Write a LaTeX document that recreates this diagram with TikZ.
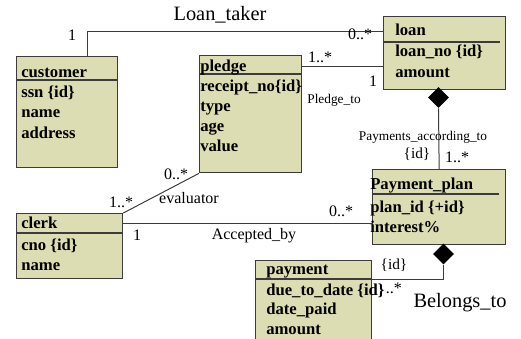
\documentclass[tikz,border=0pt]{standalone}
\usepackage{fontspec}
\setmainfont{Liberation Serif}
\usetikzlibrary{shapes.geometric}
\definecolor{classfill}{RGB}{221,221,179}
\definecolor{umlline}{RGB}{60,60,60}

\begin{document}
\begin{tikzpicture}[x=0.75pt,y=-0.75pt,
  cls/.style={draw=umlline,fill=classfill,line width=1pt,anchor=north west,inner sep=0pt},
  hdr/.style={draw=umlline,line width=0.9pt},
  attr/.style={anchor=base west,inner sep=0pt,font=\fontsize{12.5}{15}\selectfont\bfseries},
  lbl/.style={inner sep=0pt,font=\fontsize{12}{14}\selectfont},
  big/.style={inner sep=0pt,font=\fontsize{15.3}{18}\selectfont},
  small/.style={inner sep=0pt,font=\fontsize{10}{12}\selectfont},
  link/.style={draw=umlline,line width=0.75pt},
  own/.style={diamond,fill=black,inner sep=0pt,minimum width=15.75pt,minimum height=15.75pt}]
 \clip (0,0) rectangle (521,339);
 \node[cls,minimum width=75.75pt,minimum height=83.25pt] (customer) at (16,56) {};
 \node[cls,minimum width=76.5pt,minimum height=87.75pt] (pledge) at (199,55) {};
 \node[cls,minimum width=91.5pt,minimum height=54.75pt] (loan) at (383,16) {};
 \node[cls,minimum width=99.75pt,minimum height=56.25pt] (plan) at (372,169) {};
 \node[cls,minimum width=79.5pt,minimum height=48.75pt] (clerk) at (16,213) {};
 \node[cls,minimum width=87pt,minimum height=63.75pt] (payment) at (255,260) {};
 \draw[hdr] (customer.north west) ++(0,24) -- ++(101,0);
 \draw[hdr] (pledge.north west) ++(0,19) -- ++(102,0);
 \draw[hdr] (loan.north west) ++(0,26) -- ++(117,0);
 \draw[hdr] (plan.north west) ++(0,25) -- ++(127,0);
 \draw[hdr] (clerk.north west) ++(0,20) -- ++(106,0);
 \draw[hdr] (payment.north west) ++(0,19) coordinate (payment hl) -- ++(116,0) coordinate (payment hr);
 \node[attr] (customer t) at (21,77) {customer};
 \node[attr] (customer a1) at (21,97) {ssn \{id\}};
 \node[attr] (customer a2) at (21,117) {name};
 \node[attr] (customer a3) at (21,138) {address};
 \node[attr] (pledge t) at (200,71) {pledge};
 \node[attr] (pledge a1) at (200,91) {receipt\_no\{id\}};
 \node[attr] (pledge a2) at (200,111) {type};
 \node[attr] (pledge a3) at (200,131) {age};
 \node[attr] (pledge a4) at (200,151) {value};
 \node[attr] (loan t) at (395,35) {loan};
 \node[attr] (loan a1) at (395,56) {loan\_no \{id\}};
 \node[attr] (loan a2) at (395,77) {amount};
 \node[attr] (plan t) at (370,189) {Payment\_plan};
 \node[attr] (plan a1) at (370,212) {plan\_id \{+id\}};
 \node[attr] (plan a2) at (370,232) {interest\%};
 \node[attr] (clerk t) at (21,228) {clerk};
 \node[attr] (clerk a1) at (21,250) {cno \{id\}};
 \node[attr] (clerk a2) at (21,270) {name};
 \node[attr] (payment t) at (266,274) {payment};
 \node[attr] (payment a1) at (266,295) {due\_to\_date \{id\}};
 \node[attr] (payment a2) at (266,314) {date\_paid};
 \node[attr] (payment a3) at (266,334) {amount};
 \draw[link] (customer.north west) ++(71,0) |- ([yshift=-11.25pt]loan.north west);
 \draw[link] (pledge.north east) ++(0,11) coordinate (pledge to) -- (pledge to -| loan.west);
 \draw[link] (clerk.north east) -- (pledge.south west);
 \draw[link] (clerk.north east) ++(0,10) coordinate (accepted) -- (accepted -| plan.west);
 \node[own] (own loan) at (438.5,97.5) {};
 \draw[link] (own loan.south) -- (plan.north);
 \node[own] (own plan) at (443.5,254) {};
 \draw[link] (own plan.south) |- (payment hr);
 \node[big] (loan taker) at (220,15) {Loan\_taker};
 \node[lbl] (lt one) at (72,35) {1};
 \node[lbl] (lt many) at (360,34) {0..*};
 \node[lbl] (pt many) at (320,57) {1..*};
 \node[lbl] (pt one) at (373,81) {1};
 \node[small] (pledge to lbl) at (334,100) {Pledge\_to};
 \node[small] (pat lbl) at (423,137) {Payments\_according\_to};
 \node[inner sep=0pt,font=\fontsize{11.5}{14}\selectfont] (pat id) at (417,154) {\{id\}};
 \node[lbl] (pat many) at (457,157) {1..*};
 \node[lbl] (ev many1) at (176,174) {0..*};
 \node[lbl] (ev many2) at (121,202) {1..*};
 \node[lbl] (evaluator) at (189,198) {evaluator};
 \node[lbl] (ab one) at (137,235) {1};
 \node[lbl] (accepted by) at (254,236) {Accepted\_by};
 \node[lbl] (ab many) at (341,211) {0..*};
 \node[inner sep=0pt,font=\fontsize{11.5}{14}\selectfont] (bt id) at (394,265) {\{id\}};
 \node[lbl,anchor=base west] (bt many) at (385.5,293) {..*};
 \node[big] (belongs to) at (460,303) {Belongs\_to};
\end{tikzpicture}
\end{document}
